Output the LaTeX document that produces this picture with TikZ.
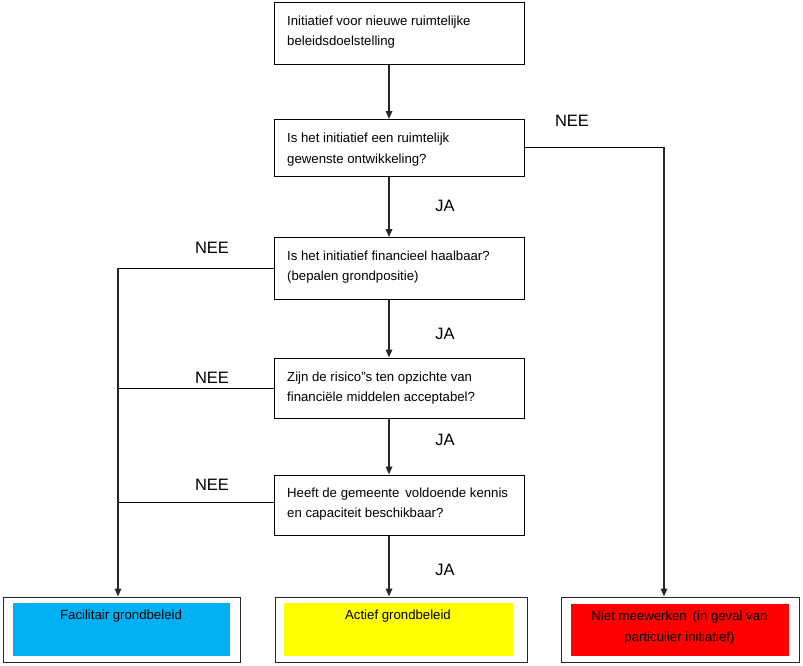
\documentclass[tikz,border=0pt]{standalone}
\usepackage{fontspec}
\setmainfont{Liberation Sans}
\usetikzlibrary{arrows.meta}
\definecolor{cblue}{RGB}{0,176,240}
\definecolor{cyellow}{RGB}{255,255,0}
\definecolor{cred}{RGB}{255,0,0}
\tikzset{
  qbox/.style={draw=black, line width=1pt, inner sep=0pt, minimum width=249.5pt},
  obox/.style={draw=black!85, line width=1pt, inner sep=0pt, minimum height=65pt},
  qtext/.style={anchor=north west, align=left, inner sep=0pt, font=\fontsize{13.2}{20.5}\selectfont},
  otext/.style={anchor=north, align=center, inner sep=0pt, font=\fontsize{13.2}{20.5}\selectfont},
  lab/.style={inner sep=0pt, font=\fontsize{16.5}{18}\selectfont},
  conn/.style={line width=1pt},
  arr/.style={line width=1.6pt, black!85, -{Triangle[length=8pt,width=6.5pt]}},
}
\begin{document}
\begin{tikzpicture}[x=1pt,y=-1pt]
\useasboundingbox (0,0) rectangle (803,665);
% question boxes
\node[qbox, minimum height=62pt] (b1) at (399.5,33) {};
\node[qbox, minimum height=56.5pt] (b2) at (399.5,147.75) {};
\node[qbox, minimum height=62pt] (b3) at (399.5,268.5) {};
\node[qbox, minimum height=60pt] (b4) at (399.5,388) {};
\node[qbox, minimum height=60pt] (b5) at (399.5,505) {};
\node[qtext] (t1) at (287,15.5) {Initiatief voor nieuwe ruimtelijke\\beleidsdoelstelling};
\node[qtext] (t2) at (287,133) {Is het initiatief een ruimtelijk\\gewenste ontwikkeling?};
\node[qtext] (t3) at (287,250.5) {Is het initiatief financieel haalbaar?\\(bepalen grondpositie)};
\node[qtext] (t4) at (287,371.5) {Zijn de risico''s ten opzichte van\\financiële middelen acceptabel?};
\node[qtext] (t5) at (287,487.5) {Heeft de gemeente\, voldoende kennis\\en capaciteit beschikbaar?};
% outcome boxes
\node[obox, minimum width=237pt] (o1) at (121.5,629.5) {};
\node[obox, minimum width=252pt] (o2) at (401,629.5) {};
\node[obox, minimum width=238pt] (o3) at (680,629.5) {};
\fill[cblue] (12.7,603) rectangle (230,655.7);
\fill[cyellow] (284,603) rectangle (512.5,655.7);
\fill[cred] (571,604) rectangle (789,655.7);
\node[otext] (ot1) at (121,609.5) {Facilitair grondbeleid};
\node[otext] (ot2) at (398,609.5) {Actief grondbeleid};
\node[otext] (ot3) at (679.5,611) {Niet meewerken\, (in geval van\\particulier initiatief)};
% main arrows
\draw[arr] (b1.south -| 389,0) -- (b2.north -| 389,0);
\draw[arr] (b2.south -| 389,0) -- (b3.north -| 389,0);
\draw[arr] (b3.south -| 389,0) -- (b4.north -| 389,0);
\draw[arr] (b4.south -| 389,0) -- (b5.north -| 389,0);
\draw[arr] (b5.south -| 389,0) -- (o2.north -| 389,0);
% NEE right
\coordinate (r1) at (664,147);
\draw[conn] (b2.east |- r1) -- (r1);
\draw[arr] (r1) -- (o3.north -| r1);
% NEE left
\coordinate (l1) at (118,268);
\coordinate (l2) at (118,388);
\coordinate (l3) at (118,502);
\draw[conn] (b3.west |- l1) -- (l1);
\draw[conn] (b4.west |- l2) -- (l2);
\draw[conn] (b5.west |- l3) -- (l3);
\draw[arr] (l1) -- (o1.north -| l1);
% labels
\node[lab] (n1) at (572,120.5) {NEE};
\node[lab] (n2) at (212,248) {NEE};
\node[lab] (n3) at (212,378) {NEE};
\node[lab] (n4) at (212,485) {NEE};
\node[lab] (j1) at (445,206) {JA};
\node[lab] (j2) at (445,334) {JA};
\node[lab] (j3) at (445,440) {JA};
\node[lab] (j4) at (445,570) {JA};
\end{tikzpicture}
\end{document}
